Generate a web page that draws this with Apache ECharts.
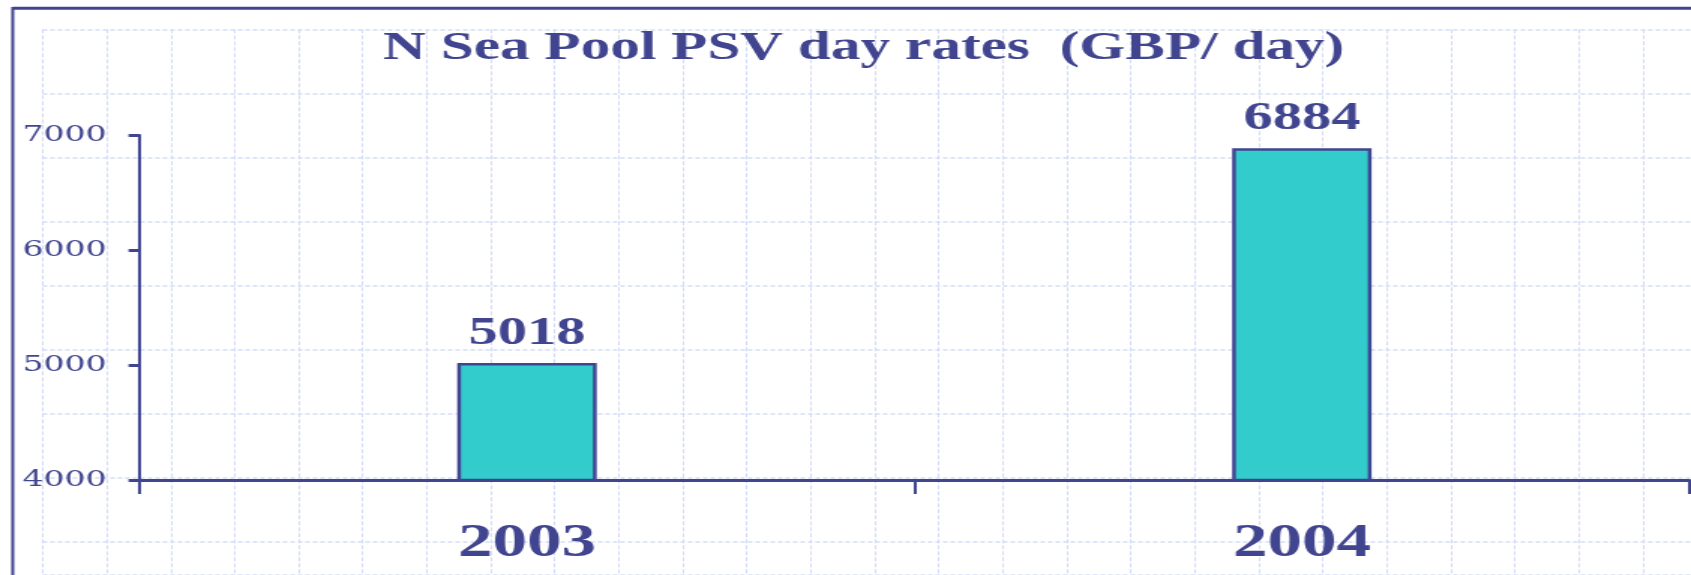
<!DOCTYPE html>
<html>
<head>
<meta charset="utf-8">
<title>N Sea Pool PSV day rates</title>
<script src="https://cdn.jsdelivr.net/npm/echarts@6/dist/echarts.min.js"></script>
<style>
html, body { margin: 0; padding: 0; background: #fff; overflow: hidden; }
/* the slide's type is stretched wide, so draw narrow and stretch the whole chart */
#chart { width: 1127px; height: 575px; transform: scaleX(1.50044); transform-origin: 0 0; }
</style>
</head>
<body>
<div id="chart"></div>
<script>
const years = ['2003', '2004']
const dayRates = [5018, 6884]
const rateMin = 4000
const rateMax = 7000
const rateStep = 1000

const S = 1691 / 1127
const X = v => v / S // page x -> chart x
const navy = '#41458f'
const paper = '#d3dcf7'

const chart = echarts.init(document.getElementById('chart'))
chart.setOption({
  animation: false,
  backgroundColor: '#fff',
  title: {
    text: 'N Sea Pool PSV day rates  (GBP/ day)',
    left: X(383),
    top: 29,
    padding: 0,
    textStyle: {
      fontFamily: 'Liberation Serif',
      fontWeight: 'bold',
      fontSize: 39.5,
      color: navy
    }
  },
  graphic: [
    { type: 'line', z: 5, shape: { x1: X(12.7), y1: 8.3, x2: 1127, y2: 8.3 }, style: { stroke: navy, lineWidth: 3 } },
    { type: 'line', z: 5, shape: { x1: X(12.7), y1: 7, x2: X(12.7), y2: 575 }, style: { stroke: navy, lineWidth: 2 } }
  ],
  grid: [
    { left: X(139.5), right: 1127 - X(1689.3), top: 135, bottom: 95, outerBoundsMode: 'none' },
    // squared paper behind the chart
    { left: X(42.7), right: 0, top: 29.3, bottom: 0, outerBoundsMode: 'none', z: 0 }
  ],
  xAxis: [
    {
      type: 'category',
      data: years,
      gridIndex: 0,
      axisLine: { lineStyle: { color: navy, width: 3 } },
      axisTick: { show: true, length: 14, lineStyle: { color: navy, width: 2 } },
      axisLabel: {
        margin: 41,
        fontFamily: 'Liberation Serif',
        fontWeight: 'bold',
        fontSize: 46,
        color: navy
      },
      z: 4
    },
    {
      type: 'value',
      gridIndex: 1,
      min: 0,
      max: X(1691 - 42.7),
      interval: X(64),
      axisLine: { show: false },
      axisTick: { show: false },
      axisLabel: { show: false },
      splitLine: { show: true, lineStyle: { color: paper, width: 1, type: [4, 2] } },
      z: 0
    }
  ],
  yAxis: [
    {
      type: 'value',
      gridIndex: 0,
      min: rateMin,
      max: rateMax,
      interval: rateStep,
      axisLine: { show: true, lineStyle: { color: navy, width: 2 } },
      axisTick: { show: true, length: X(11), lineStyle: { color: navy, width: 3 } },
      splitLine: { show: false },
      axisLabel: {
        margin: X(33),
        formatter: v => String(v),
        fontFamily: 'DejaVu Serif',
        fontSize: 22,
        color: navy
      },
      z: 4
    },
    {
      type: 'value',
      gridIndex: 1,
      inverse: true,
      min: 0,
      max: 575 - 29.3,
      interval: 64,
      axisLine: { show: false },
      axisTick: { show: false },
      axisLabel: { show: false },
      splitLine: { show: true, lineStyle: { color: paper, width: 1.5, type: [3, 2] } },
      z: 0
    }
  ],
  series: [{
    type: 'bar',
    xAxisIndex: 0,
    yAxisIndex: 0,
    data: dayRates,
    barWidth: '18%',
    itemStyle: { color: '#33cccc', borderColor: navy, borderWidth: 2.5 },
    label: {
      show: true,
      position: 'top',
      distance: 10,
      fontFamily: 'Liberation Serif',
      fontWeight: 'bold',
      fontSize: 39,
      color: navy
    },
    z: 3
  }]
})
</script>
</body>
</html>
